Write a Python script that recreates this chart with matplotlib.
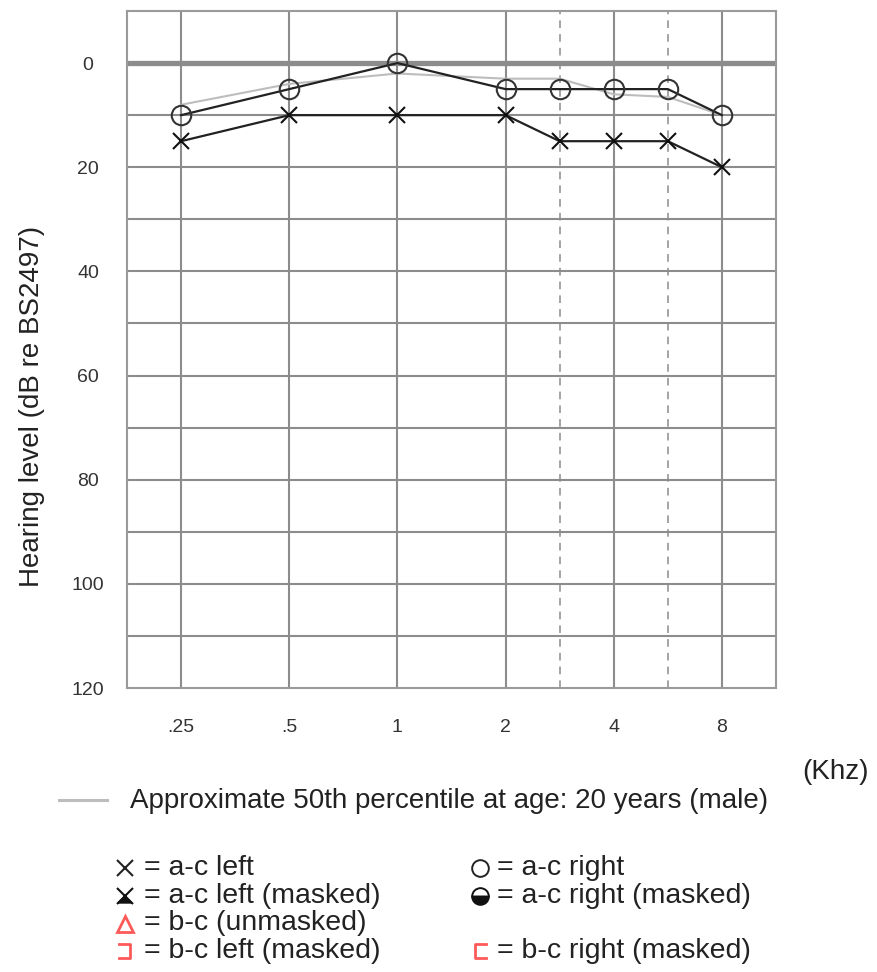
import numpy as np
import matplotlib
matplotlib.use("Agg")
import matplotlib.pyplot as plt
from matplotlib.patches import Polygon

plt.rcParams['font.family'] = ['Liberation Sans', 'DejaVu Sans']

# frequencies (kHz) and their position on the audiogram grid
freq_labels = ['.25', '.5', '1', '2', '3', '4', '6', '8']
freq_pos = [0, 1, 2, 3, 3.5, 4, 4.5, 5]

right_ac = [10, 5, 0, 5, 5, 5, 5, 10]
left_ac = [15, 10, 10, 10, 15, 15, 15, 20]
pct50 = [8, 4, 2, 3, 3, 6, 6.5, 10]

tick_labels = ['.25', '.5', '1', '2', '4', '8']
tick_pos = [0, 1, 2, 3, 4, 5]
y_ticks = [0, 20, 40, 60, 80, 100, 120]

W, H = 877, 972
fig = plt.figure(figsize=(W / 100, H / 100), dpi=100)

def fx(x):
    return x / W

def fy(y):
    return 1 - y / H

ax = fig.add_axes([fx(127), fy(688), fx(776) - fx(127), fy(11) - fy(688)])
ax.set_xlim(-0.5, 5.5)
ax.set_ylim(120, -10)

grid_c = '#8c8c8c'
for y in range(10, 120, 10):
    ax.axhline(y, color=grid_c, lw=1.5, zorder=1)
ax.axhline(0, color=grid_c, lw=3.8, zorder=1)
for x in tick_pos:
    ax.axvline(x, color=grid_c, lw=1.5, zorder=1)
for x in [3.5, 4.5]:
    ax.axvline(x, color=grid_c, lw=1.1, ls=(0, (5, 4)), zorder=1)
for s in ax.spines.values():
    s.set_color('#9a9a9a')
    s.set_linewidth(1.5)

ax.plot(freq_pos, pct50, color='#bdbdbd', lw=1.5, zorder=2)
ax.plot(freq_pos, left_ac, color='#222222', lw=1.6, marker='x', ms=12,
        mew=1.5, mec='#111111', zorder=3)
ax.plot(freq_pos, right_ac, color='#222222', lw=1.6, marker='o', ms=14,
        mew=1.5, mfc='none', mec='#333333', zorder=4)

ax.set_xticks(tick_pos)
ax.set_xticklabels(tick_labels)
ax.set_yticks(y_ticks)
ax.set_yticklabels([str(v) for v in y_ticks])
ax.tick_params(length=0, labelsize=14, labelcolor='#333333')
ax.tick_params(axis='x', pad=22)
ax.tick_params(axis='y', pad=28)
for t in ax.get_yticklabels():
    t.set_horizontalalignment('center')

fig.text(fx(32), fy(406), 'Hearing level (dB re BS2497)', rotation=90,
         ha='center', va='center', fontsize=20, color='#222222')
fig.text(fx(836), fy(772), '(Khz)', ha='center', va='center',
         fontsize=20, color='#222222')

# legend
fig.add_artist(plt.Line2D([fx(59), fx(107)], [fy(800), fy(800)],
                          color='#bdbdbd', lw=2.2))
fig.text(fx(130), fy(801), 'Approximate 50th percentile at age: 20 years (male)',
         ha='left', va='center', fontsize=20, color='#222222')

rows = [868, 896, 923, 951]
c1, c2 = 125, 480
txt = dict(ha='left', va='center', fontsize=20.5, color='#222222')
fig.text(fx(144), fy(rows[0]), '= a-c left', **txt)
fig.text(fx(144), fy(rows[1]), '= a-c left (masked)', **txt)
fig.text(fx(144), fy(rows[2]), '= b-c (unmasked)', **txt)
fig.text(fx(144), fy(rows[3]), '= b-c left (masked)', **txt)
fig.text(fx(497), fy(rows[0]), '= a-c right', **txt)
fig.text(fx(497), fy(rows[1]), '= a-c right (masked)', **txt)
fig.text(fx(497), fy(rows[3]), '= b-c right (masked)', **txt)

red = '#ff5a5a'
fig.add_artist(plt.Line2D([fx(c1)], [fy(rows[0])], marker='x', ms=11,
                          mew=1.5, color='#222222', ls='none'))
fig.add_artist(plt.Line2D([fx(c1)], [fy(rows[1])], marker='x', ms=11,
                          mew=1.5, color='#111111', ls='none'))
fig.add_artist(Polygon([[fx(c1), fy(rows[1])], [fx(c1 - 7), fy(rows[1] + 7)],
                        [fx(c1 + 7), fy(rows[1] + 7)]], closed=True,
                       transform=fig.transFigure, color='#111111'))
fig.add_artist(plt.Line2D([fx(c1)], [fy(rows[2] + 1)], marker='^', ms=11,
                          mew=2, mfc='none', mec=red, ls='none'))
fig.add_artist(plt.Line2D([fx(c1 - 6), fx(c1 + 5), fx(c1 + 5), fx(c1 - 6)],
                          [fy(rows[3] - 7), fy(rows[3] - 7), fy(rows[3] + 7), fy(rows[3] + 7)],
                          color=red, lw=2))
fig.add_artist(plt.Line2D([fx(c2)], [fy(rows[0])], marker='o', ms=12,
                          mew=1.4, mfc='none', mec='#222222', ls='none'))
fig.add_artist(plt.Line2D([fx(c2)], [fy(rows[1])], marker='o', ms=12,
                          mew=1.4, fillstyle='bottom', mfc='#111111',
                          mfcalt='white', mec='#111111', ls='none'))
fig.add_artist(plt.Line2D([fx(c2 + 6), fx(c2 - 5), fx(c2 - 5), fx(c2 + 6)],
                          [fy(rows[3] - 7), fy(rows[3] - 7), fy(rows[3] + 7), fy(rows[3] + 7)],
                          color=red, lw=2))

fig.savefig('out.png', dpi=100)
